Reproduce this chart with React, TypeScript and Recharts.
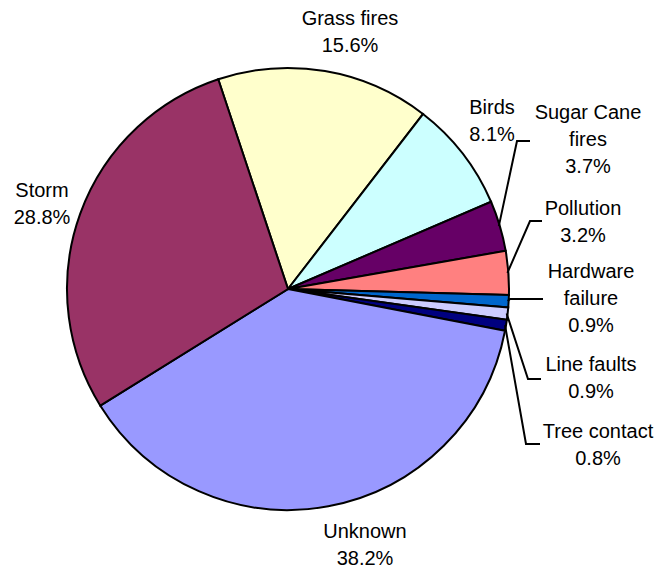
import { PieChart, Pie, Cell } from 'recharts'

const causes = ['Grass fires', 'Birds', 'Sugar Cane fires', 'Pollution', 'Hardware failure', 'Line faults', 'Tree contact', 'Unknown', 'Storm']
const shares = [15.6, 8.1, 3.7, 3.2, 0.9, 0.9, 0.8, 38.2, 28.8]
const colors = ['#FFFFCC', '#CCFFFF', '#660066', '#FF8080', '#0066CC', '#CCCCFF', '#000080', '#9999FF', '#993366']

const data = causes.map((name, i) => ({ name, value: shares[i] }))

// label placement, relative to pie centre
// dx/dy = centre of the first text line
type LabelPos = { dx: number; dy: number; lines: string[]; elbow?: [number, number]; end?: [number, number] }
const labelPos: Record<string, LabelPos> = {
  'Grass fires': { dx: 62, dy: -271, lines: ['Grass fires'] },
  'Birds': { dx: 204, dy: -182, lines: ['Birds'] },
  'Sugar Cane fires': { dx: 300, dy: -177, lines: ['Sugar Cane', 'fires'], elbow: [229, -148], end: [242, -148] },
  'Pollution': { dx: 295, dy: -81, lines: ['Pollution'], elbow: [242, -68], end: [254, -68] },
  'Hardware failure': { dx: 303, dy: -18, lines: ['Hardware', 'failure'], elbow: [222, 10], end: [255, 10] },
  'Line faults': { dx: 303, dy: 75, lines: ['Line faults'], elbow: [240, 90], end: [253, 90] },
  'Tree contact': { dx: 310, dy: 142, lines: ['Tree contact'], elbow: [238, 155], end: [252, 155] },
  'Unknown': { dx: 77, dy: 242, lines: ['Unknown'] },
  'Storm': { dx: -246, dy: -99, lines: ['Storm'] },
}

const RAD = Math.PI / 180
const LINE_H = 27

function renderLabel(props: any) {
  const { cx, cy, midAngle, outerRadius, name, value } = props
  const pos = labelPos[name]
  if (!pos) return null
  const lines = [...pos.lines, `${value.toFixed(1)}%`]
  const tx = cx + pos.dx
  const ty = cy + pos.dy
  let leader = null
  if (pos.elbow && pos.end) {
    const sx = cx + (outerRadius - 1) * Math.cos(-midAngle * RAD)
    const sy = cy + (outerRadius - 1) * Math.sin(-midAngle * RAD)
    const pts = `${sx},${sy} ${cx + pos.elbow[0]},${cy + pos.elbow[1]} ${cx + pos.end[0]},${cy + pos.end[1]}`
    leader = <polyline points={pts} fill="none" stroke="#000" strokeWidth={2} />
  }
  return (
    <g>
      {leader}
      <text x={tx} y={ty} textAnchor="middle" fill="#000" fontSize={20} fontFamily="Liberation Sans, Arial, sans-serif">
        {lines.map((l, i) => (
          <tspan key={i} x={tx} y={ty + i * LINE_H} dominantBaseline="central">{l}</tspan>
        ))}
      </text>
    </g>
  )
}

export default function App() {
  return (
    <div style={{ width: 660, height: 569, background: '#fff' }}>
      <style>{`body{margin:0}`}</style>
      <PieChart width={660} height={569} margin={{ top: 0, right: 0, bottom: 0, left: 0 }}>
        <Pie
          data={data}
          dataKey="value"
          nameKey="name"
          cx={288}
          cy={289}
          outerRadius={221}
          startAngle={108.4}
          endAngle={-251.6}
          stroke="#000"
          strokeWidth={2}
          label={renderLabel}
          labelLine={false}
          isAnimationActive={false}
        >
          {data.map((d, i) => (
            <Cell key={d.name} fill={colors[i]} />
          ))}
        </Pie>
      </PieChart>
    </div>
  )
}
